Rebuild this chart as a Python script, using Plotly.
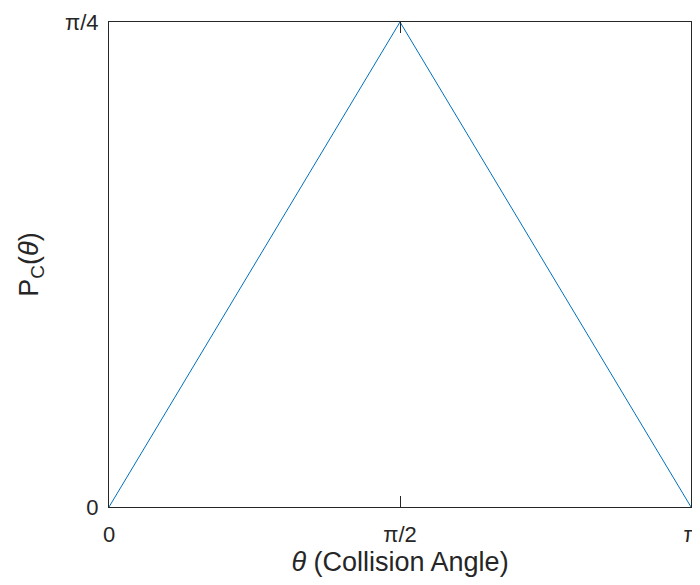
import math
import plotly.graph_objects as go

# Data
theta = [0, math.pi / 2, math.pi]
p_c = [0, math.pi / 4, 0]
x_tickvals = [0, math.pi / 2, math.pi]
x_ticktext = ["0", "π/2", "π"]
y_tickvals = [0, math.pi / 4]
y_ticktext = ["0", "π/4"]

FONT = "Liberation Sans, Arial"
INK = "#262626"

fig = go.Figure()
fig.add_trace(go.Scatter(x=theta, y=p_c, mode="lines",
                         line=dict(color="#0072BD", width=1), showlegend=False))

axis_common = dict(showline=True, linecolor=INK, linewidth=1, mirror="ticks",
                   ticks="inside", ticklen=11, tickwidth=1, tickcolor=INK,
                   showgrid=False, zeroline=False, automargin=False,
                   ticklabeloverflow="allow",
                   tickfont=dict(family=FONT, size=22, color=INK))

# page body has an 8px margin, so the figure is sized/offset to compensate
fig.update_layout(
    width=692, height=569,
    margin=dict(l=101, r=9, t=14, b=70, pad=0),
    paper_bgcolor="white", plot_bgcolor="white",
    xaxis=dict(range=[0, math.pi], tickvals=x_tickvals, ticktext=x_ticktext,
               ticklabelstandoff=8,
               title=dict(text="<i>θ</i> (Collision Angle)", standoff=7,
                          font=dict(family=FONT, size=27, color=INK)),
               **axis_common),
    yaxis=dict(range=[0, math.pi / 4], tickvals=y_tickvals, ticktext=y_ticktext,
               ticklabelstandoff=5,
               title=dict(text="P<sub>C</sub>(<i>θ</i>)", standoff=18,
                          font=dict(family=FONT, size=27, color=INK)),
               **axis_common),
)

fig.write_html("out.html")
